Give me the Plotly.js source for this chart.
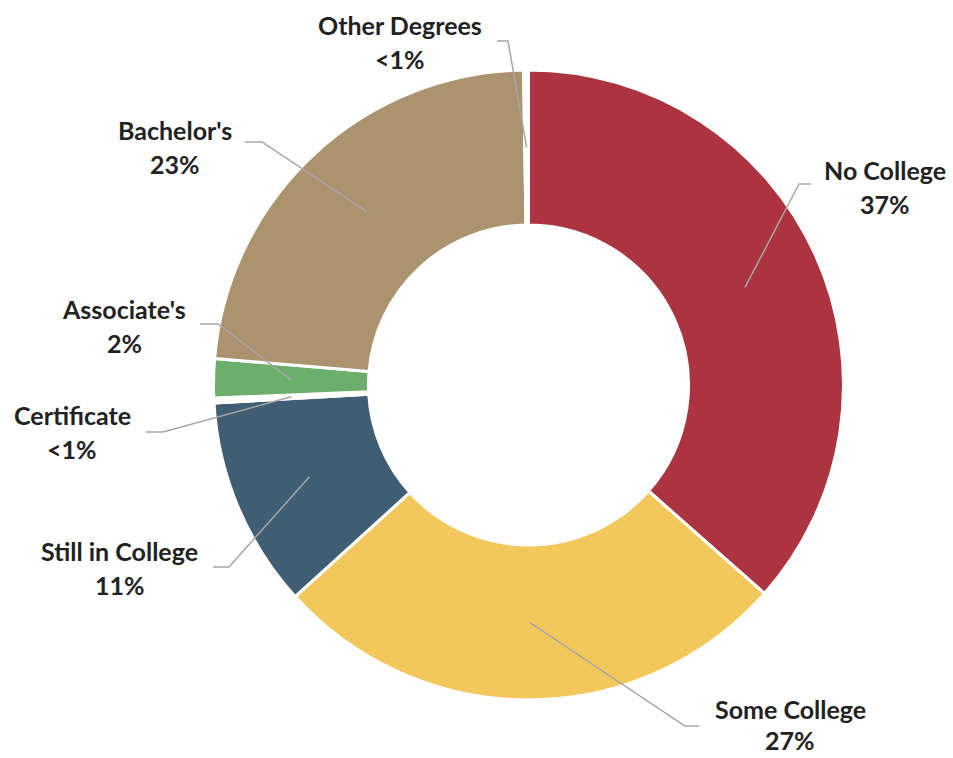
<!DOCTYPE html>
<html>
<head>
<meta charset="utf-8">
<script src="https://cdn.plot.ly/plotly-3.0.1.min.js"></script>
<style>html,body{margin:0;padding:0;background:#fff;}#chart{width:953px;height:758px;}</style>
</head>
<body>
<div id="chart"></div>
<script>
// ---- data ----
var categories = ["No College", "Some College", "Still in College", "Certificate", "Associate's", "Bachelor's", "Other Degrees"];
var shares = [36.5, 26.75, 10.8, 0.25, 2.0, 23.4, 0.25];
var shareLabels = ["37%", "27%", "11%", "<1%", "2%", "23%", "<1%"];
var colors = ["#AB3440", "#F2C75C", "#3F5E73", "#FFFFFF", "#6CAF6C", "#AB9370", "#FFFFFF"];

// ---- layout geometry (pixels) ----
var W = 953, H = 758;
var cx = 528.5, cy = 385, R = 315, HOLE = 0.508;
// label centre positions (name line, percent line) and elbow points for leader lines (pixels)
var labelPos = [[885, 170, 204], [790, 709, 740], [120, 551, 585], [72, 415, 449], [124, 309, 343], [175, 130, 164], [400, 25, 59]];
var elbows = [
  [[811, 184], [799, 184]],
  [[699, 726], [685, 726]],
  [[213, 567], [229, 567]],
  [[146, 432], [163, 432]],
  [[200, 324], [218, 324]],
  [[245, 142], [262, 142]],
  [[497, 41], [508, 41]]
];

function px(x) { return x / W; }
function py(y) { return 1 - y / H; }

var total = shares.reduce(function (a, b) { return a + b; }, 0);
var rMid = R * (1 + HOLE) / 2;
var cum = 0;
var shapes = [], annotations = [];
var font = {family: "Lato, 'Open Sans', sans-serif", size: 25, color: "#222222", weight: "bold"};
for (var i = 0; i < shares.length; i++) {
  var mid = (cum + shares[i] / 2) / total * 2 * Math.PI;
  cum += shares[i];
  var ax = cx + rMid * Math.sin(mid);
  var ay = cy - rMid * Math.cos(mid);
  var e = elbows[i];
  shapes.push({
    type: "path", xref: "paper", yref: "paper",
    path: "M " + px(e[0][0]) + "," + py(e[0][1]) + " L " + px(e[1][0]) + "," + py(e[1][1]) + " L " + px(ax) + "," + py(ay),
    line: {color: "#A6A6A6", width: 1.5}
  });
  annotations.push({
    xref: "paper", yref: "paper", x: px(labelPos[i][0]), y: py(labelPos[i][1]),
    xanchor: "center", yanchor: "middle", showarrow: false,
    text: categories[i], font: font
  });
  annotations.push({
    xref: "paper", yref: "paper", x: px(labelPos[i][0]), y: py(labelPos[i][2]),
    xanchor: "center", yanchor: "middle", showarrow: false,
    text: shareLabels[i], font: font
  });
}

var trace = {
  type: "pie",
  labels: categories,
  values: shares,
  hole: HOLE,
  sort: false,
  direction: "clockwise",
  rotation: 0,
  textinfo: "none",
  hoverinfo: "label+percent",
  marker: {colors: colors, line: {color: "#FFFFFF", width: 3}},
  domain: {x: [(cx - R) / W, (cx + R) / W], y: [1 - (cy + R) / H, 1 - (cy - R) / H]},
  showlegend: false
};

var layout = {
  width: W, height: H,
  margin: {l: 0, r: 0, t: 0, b: 0},
  paper_bgcolor: "#FFFFFF",
  plot_bgcolor: "#FFFFFF",
  showlegend: false,
  shapes: shapes,
  annotations: annotations
};

Plotly.newPlot("chart", [trace], layout, {displayModeBar: false, staticPlot: true});
</script>
</body>
</html>
